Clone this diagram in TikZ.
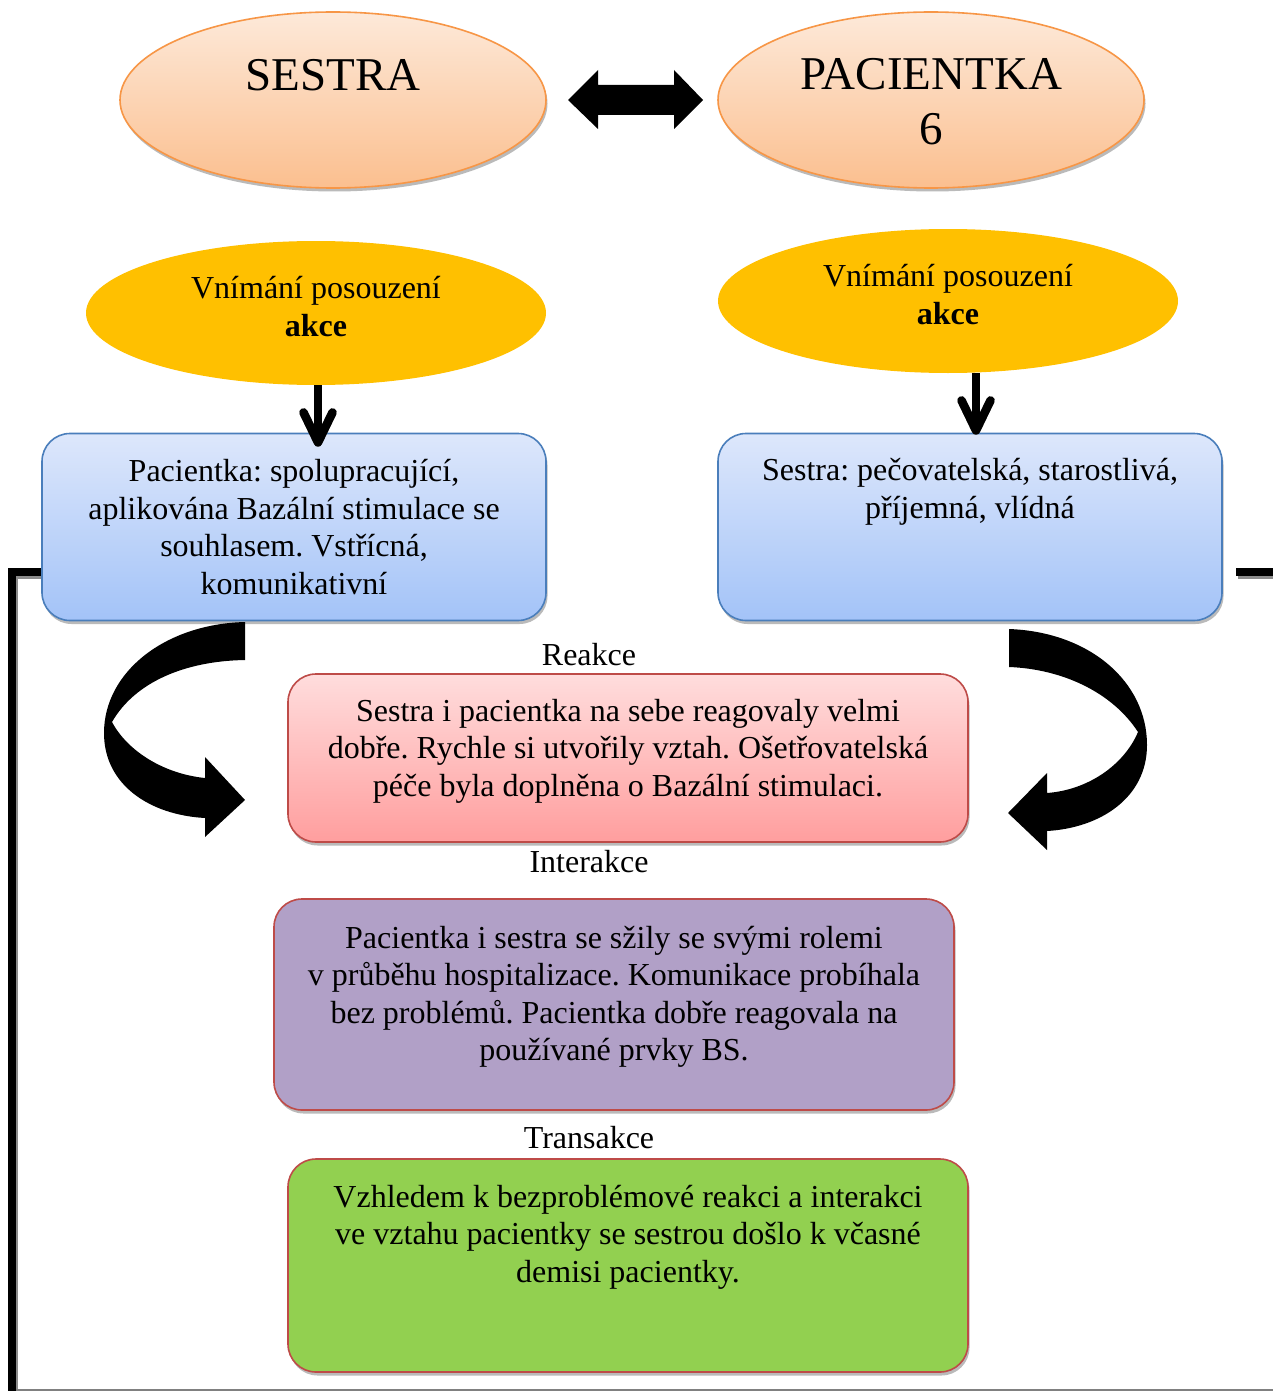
\documentclass[tikz,border=0pt]{standalone}
\usepackage{fontspec}
\setmainfont{Liberation Serif}
\frenchspacing
\usetikzlibrary{arrows.meta,shapes.geometric,shadows}

\definecolor{peachtop}{HTML}{FDE9D9}
\definecolor{peachbot}{HTML}{FBBF8F}
\definecolor{peachline}{HTML}{F79646}
\definecolor{gold}{HTML}{FFC000}
\definecolor{bluetop}{HTML}{DDE7FB}
\definecolor{bluebot}{HTML}{A3C3F8}
\definecolor{blueline}{HTML}{4A7EBB}
\definecolor{pinktop}{HTML}{FFDDDD}
\definecolor{pinkbot}{HTML}{FF9E9E}
\definecolor{redline}{HTML}{BE4B48}
\definecolor{lilac}{HTML}{B1A0C7}
\definecolor{leaf}{HTML}{92D050}

\tikzset{
  shade/.style={drop shadow={shadow xshift=1.5pt,shadow yshift=-3.5pt,opacity=0.45,fill=black!60}},
  role/.style={ellipse,draw=peachline,line width=1.6pt,top color=peachtop,bottom color=peachbot,
    minimum width=426pt,minimum height=176pt,shade},
  view/.style={ellipse,fill=gold,minimum width=460pt,minimum height=144pt},
  card/.style={rectangle,rounded corners=28pt,line width=1.6pt,shade},
  bluecard/.style={card,draw=blueline,top color=bluetop,bottom color=bluebot,minimum width=504pt,minimum height=187pt},
  txt/.style={align=center,font=\fontsize{32}{37.5}\selectfont,inner sep=0pt},
  bigtxt/.style={align=center,font=\fontsize{47}{55}\selectfont,inner sep=0pt},
  downarrow/.style={line width=8.5pt,-{Straight Barb[length=30pt,width=29pt,line width=8.5pt,round]}},
  frame/.style={line width=8pt,line cap=rect},
}

\begin{document}
\begin{tikzpicture}[x=1pt,y=-1pt]
\useasboundingbox (0,0) rectangle (1273,1391);
\fill[white] (0,0) rectangle (1273,1391);

% frame lines on the sides
\draw[frame,black!45] (14,1391) -- (14,575) -- (44,575);
\draw[frame] (12,1391) -- (12,572) -- (44,572);
\draw[frame,black!45] (1242,575) -- (1273,575);
\draw[frame] (1240,572) -- (1273,572);
\draw[black!50,line width=1.5pt] (16,1390) -- (1273,1390);

% top ovals
\node[role] (sestra) at (333,100) {};
\node[role] (pacientka) at (931,100) {};
\node[bigtxt] (sestraT) at (333,75) {SESTRA};
\node[bigtxt] (pacientkaT) at (931,102) {PACIENTKA\\6};

% double block arrow between the two ovals
\fill (568,100) -- (598,70) -- (598,85) -- (674,85) -- (674,70) -- (703,100)
  -- (674,129) -- (674,115) -- (598,115) -- (598,129) -- cycle;

% perception ovals
\node[view] (vL) at (316,313) {};
\node[view] (vR) at (948,301) {};
\node[txt] (vLT) at (316,306.5) {Vnímání posouzení\\\textbf{akce}};
\node[txt] (vRT) at (948,294.5) {Vnímání posouzení\\\textbf{akce}};

% action boxes
\node[bluecard] (bL) at (294,527) {};
\node[bluecard] (bR) at (970,527) {};
\node[txt] (bLT) at (294,527) {Pacientka: spolupracující,\\aplikována Bazální stimulace se\\souhlasem. Vstřícná,\\komunikativní};
\node[txt] (bRT) at (970,492) {Sestra: pečovatelská, starostlivá,\\příjemná, vlídná};

% arrows from perception to action, with a soft shadow
\coordinate (aLs) at (318,385);
\coordinate (aRs) at (976,373);
\begin{scope}[black!40,xshift=2pt,yshift=-3pt]
  \draw[downarrow,shorten >=-14pt] (aLs) -- (aLs |- bL.north);
  \draw[downarrow,shorten >=-2pt] (aRs) -- (aRs |- bR.north);
\end{scope}
\draw[downarrow,shorten >=-14pt] (aLs) -- (aLs |- bL.north);
\draw[downarrow,shorten >=-2pt] (aRs) -- (aRs |- bR.north);

% curved arrows into the reaction box
\fill (245,622) .. controls (165,624) and (104,672) .. (104,733)
  .. controls (104,785) and (150,815) .. (205,818) -- (205,837) -- (245,800)
  -- (205,757) -- (205,778) .. controls (165,774) and (128,752) .. (112,722)
  .. controls (135,682) and (185,661) .. (245,660) -- cycle;
\fill (1009,629) .. controls (1090,632) and (1147,682) .. (1147,745)
  .. controls (1147,798) and (1100,828) .. (1047,831) -- (1047,850) -- (1008,813)
  -- (1047,773) -- (1047,793) .. controls (1088,790) and (1124,765) .. (1138,732)
  .. controls (1112,692) and (1062,669) .. (1009,667) -- cycle;

% reaction, interaction, transaction
\node[txt] (lab1) at (589,655) {Reakce};
\node[card,draw=redline,top color=pinktop,bottom color=pinkbot,minimum width=680pt,minimum height=168pt] (reak) at (628,758) {};
\node[txt] (reakT) at (628,751) {Sestra i pacientka na sebe reagovaly velmi\\dobře. Rychle si utvořily vztah. Ošetřovatelská\\péče byla doplněna o Bazální stimulaci.};

\node[txt] (lab2) at (589,862) {Interakce};
\node[card,draw=redline,fill=lilac,minimum width=680pt,minimum height=211pt] (inter) at (614,1004.5) {};
\node[txt] (interT) at (614,997) {Pacientka i sestra se sžily se svými rolemi\\v průběhu hospitalizace. Komunikace probíhala\\bez problémů. Pacientka dobře reagovala na\\používané prvky BS.};

\node[txt] (lab3) at (589,1138) {Transakce};
\node[card,draw=redline,fill=leaf,minimum width=680pt,minimum height=213pt] (trans) at (628,1265.5) {};
\node[txt] (transT) at (628,1237) {Vzhledem k bezproblémové reakci a interakci\\ve vztahu pacientky se sestrou došlo k včasné\\demisi pacientky.};
\end{tikzpicture}
\end{document}
